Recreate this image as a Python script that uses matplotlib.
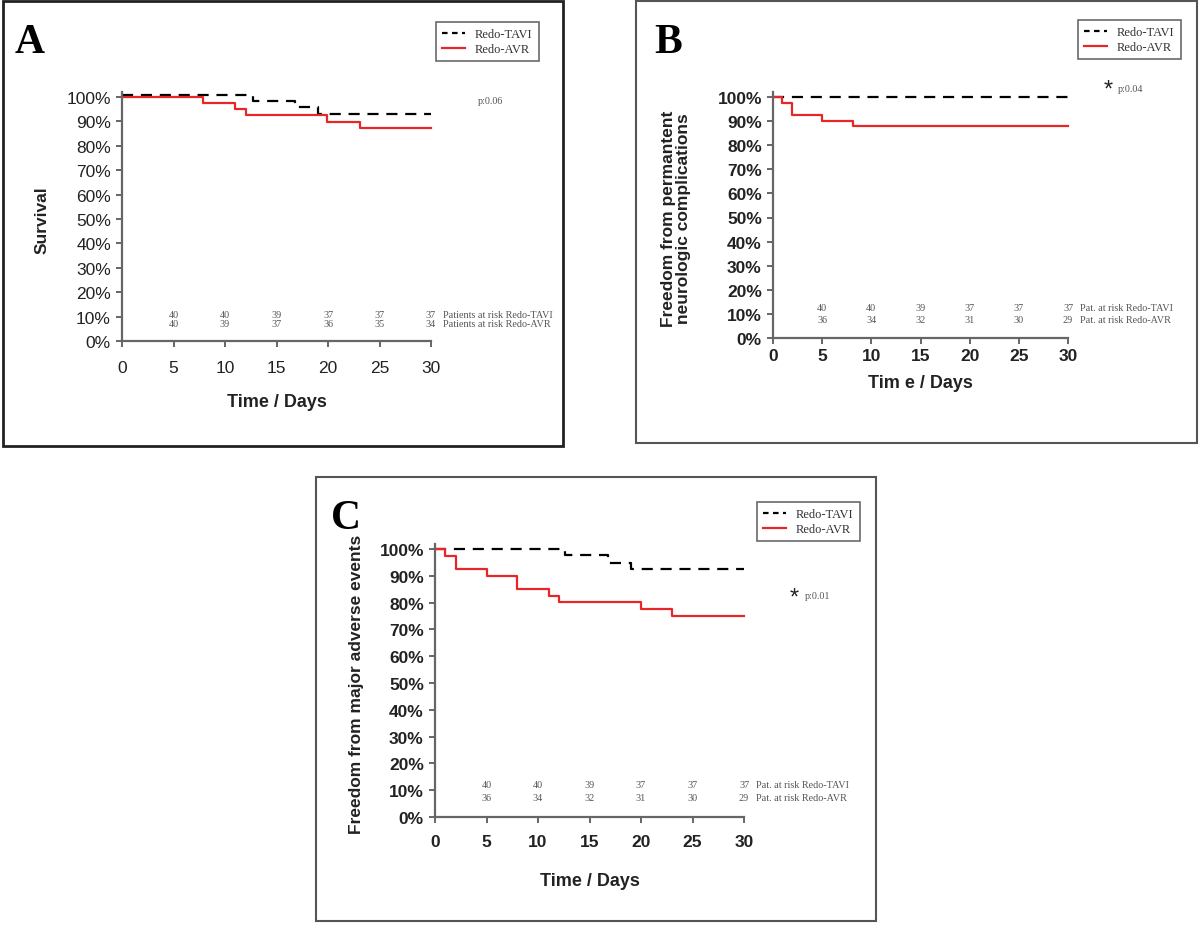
import matplotlib
matplotlib.use("Agg")
import matplotlib.pyplot as plt
from matplotlib.patches import Rectangle
from matplotlib.lines import Line2D

# ---- data ----
risk_days = [5, 10, 15, 20, 25, 30]

# A: survival
a_tavi_days = [0, 12.7, 16.8, 19.0, 30]
a_tavi_vals = [100.8, 98.3, 95.9, 93.2, 93.2]
a_avr_days = [0, 7.9, 11.0, 12.0, 19.9, 23.1, 30]
a_avr_vals = [100, 97.6, 95.0, 92.5, 89.7, 87.2, 87.2]
a_risk_tavi = [40, 40, 39, 37, 37, 37]
a_risk_avr = [40, 39, 37, 36, 35, 34]

# B: freedom from permanent neurologic complications
b_tavi_days = [0, 30]
b_tavi_vals = [100, 100]
b_avr_days = [0, 0.9, 1.9, 4.95, 8.1, 30]
b_avr_vals = [100, 97.5, 92.5, 90.0, 87.8, 87.8]

# C: freedom from major adverse events
c_tavi_days = [0, 12.6, 16.8, 19.0, 30]
c_tavi_vals = [100, 97.6, 94.9, 92.4, 92.4]
c_avr_days = [0, 1.0, 2.0, 5.0, 8.0, 11.1, 12.0, 20.0, 23.0, 30]
c_avr_vals = [100, 97.5, 92.5, 90.0, 85.1, 82.5, 80.4, 77.5, 75.1, 75.1]

bc_risk_tavi = [40, 40, 39, 37, 37, 37]
bc_risk_avr = [36, 34, 32, 31, 30, 29]

W, H = 1200, 928
RED = '#e8262a'
SANS = ['Liberation Sans', 'DejaVu Sans']
SERIF = ['Liberation Serif', 'DejaVu Serif']

fig = plt.figure(figsize=(12, 9.28), dpi=100)


def fx(px):
    return px / W


def fy(py):
    return 1 - py / H


def panel(box, ax_px, letter, letter_xy, leg_px, tavi, avr, risk, risk_labels,
          risk_y, ylabel, ylabel_x, xlabel, xlabel_y, pval, pval_xy, star,
          bold_ticks, box_lw, box_col, xpad):
    # frame round the panel
    x0, y0, x1, y1 = box
    fig.add_artist(Rectangle((fx(x0), fy(y1)), fx(x1 - x0), (y1 - y0) / H,
                             transform=fig.transFigure, fill=False,
                             edgecolor=box_col, linewidth=box_lw))
    l, t, r, b = ax_px
    ax = fig.add_axes([fx(l), fy(b), fx(r - l), (b - t) / H])
    ax.set_xlim(0, 30)
    ax.set_ylim(0, 100)
    for s in ['top', 'right']:
        ax.spines[s].set_visible(False)
    for s in ['left', 'bottom']:
        ax.spines[s].set_color('#666666')
        ax.spines[s].set_linewidth(1.6)
    ax.spines['left'].set_bounds(0, 102)
    ax.set_xticks([0, 5, 10, 15, 20, 25, 30])
    ax.set_yticks(range(0, 101, 10))
    ax.set_yticklabels([f'{v}%' for v in range(0, 101, 10)])
    ax.tick_params(direction='out', length=4, width=1.4, color='#666666',
                   labelsize=12.5, labelcolor='#222222', pad=4)
    ax.tick_params(axis='x', pad=xpad)
    for lab in ax.get_xticklabels() + ax.get_yticklabels():
        lab.set_family(SANS)
        if bold_ticks:
            lab.set_fontweight('bold')
    ax.patch.set_alpha(0)

    ax.plot(tavi[0], tavi[1], drawstyle='steps-post', color='black',
            linestyle=(0, (5, 3.5)), linewidth=1.6, clip_on=False)
    ax.plot(avr[0], avr[1], drawstyle='steps-post', color=RED,
            linewidth=1.6, clip_on=False)

    # patients at risk
    for row, lab, yy in zip(risk, risk_labels, risk_y):
        for d, n in zip(risk_days, row):
            ax.text(d, yy, str(n), ha='center', va='center', fontsize=7.3,
                    family=SERIF, color='#555555')
        ax.text(31.2, yy, lab, ha='left', va='center', fontsize=7.3,
                family=SERIF, color='#555555', clip_on=False)

    fig.text(fx((l + r) / 2), fy(xlabel_y), xlabel, ha='center', va='center',
             fontsize=13, fontweight='bold', family=SANS, color='#222222')
    fig.text(fx(ylabel_x), fy((t + b) / 2), ylabel, rotation=90, ha='center',
             va='center', fontsize=12.5, fontweight='bold', family=SANS,
             color='#222222', linespacing=1.0)

    fig.text(fx(letter_xy[0]), fy(letter_xy[1]), letter, fontsize=30,
             fontweight='bold', family=SERIF, ha='center', va='center')

    if star is not None:
        fig.text(fx(star[0]), fy(star[1]), '*', fontsize=17, family=SANS,
                 ha='center', va='center', color='#222222')
    fig.text(fx(pval_xy[0]), fy(pval_xy[1]), pval, fontsize=7.3, family=SERIF,
             ha='left', va='center', color='#555555')

    handles = [Line2D([], [], color='black', linestyle=(0, (2.5, 2)), lw=1.6),
               Line2D([], [], color=RED, lw=1.6)]
    lx0, ly0, lx1, ly1 = leg_px
    leg = fig.legend(handles, ['Redo-TAVI', 'Redo-AVR'], loc='upper right',
                     bbox_to_anchor=(fx(lx1), fy(ly0)),
                     prop={'family': SERIF, 'size': 9}, frameon=True,
                     fancybox=False, edgecolor='#444444', handlelength=1.8,
                     handletextpad=0.8, borderpad=0.5, labelspacing=0.2,
                     labelcolor='#333333')
    leg.get_frame().set_linewidth(1.2)
    return ax


panel(box=(3, 2, 563, 447), ax_px=(122, 98, 431, 342), letter='A',
      letter_xy=(30, 43), leg_px=(435, 17, 545, 66),
      tavi=(a_tavi_days, a_tavi_vals), avr=(a_avr_days, a_avr_vals),
      risk=(a_risk_tavi, a_risk_avr),
      risk_labels=('Patients at risk Redo-TAVI', 'Patients at risk Redo-AVR'),
      risk_y=(11.0, 7.0), ylabel='Survival', ylabel_x=42,
      xlabel='Time / Days', xlabel_y=403, pval='p:0.06', pval_xy=(478, 102),
      star=None, bold_ticks=False, box_lw=2.0, box_col='#222222', xpad=10)

panel(box=(636, 2, 1197, 444), ax_px=(773, 98, 1068, 339), letter='B',
      letter_xy=(668, 43), leg_px=(1078, 15, 1187, 62),
      tavi=(b_tavi_days, b_tavi_vals), avr=(b_avr_days, b_avr_vals),
      risk=(bc_risk_tavi, bc_risk_avr),
      risk_labels=('Pat. at risk Redo-TAVI', 'Pat. at risk Redo-AVR'),
      risk_y=(12.5, 7.5),
      ylabel='Freedom from permantent\nneurologic complications',
      ylabel_x=676, xlabel='Tim e / Days', xlabel_y=383, pval='p:0.04',
      pval_xy=(1118, 89), star=(1108, 91), bold_ticks=True, box_lw=1.5,
      box_col='#555555', xpad=3)

panel(box=(316, 478, 876, 922), ax_px=(435, 550, 744, 818), letter='C',
      letter_xy=(346, 519), leg_px=(741, 497, 866, 543),
      tavi=(c_tavi_days, c_tavi_vals), avr=(c_avr_days, c_avr_vals),
      risk=(bc_risk_tavi, bc_risk_avr),
      risk_labels=('Pat. at risk Redo-TAVI', 'Pat. at risk Redo-AVR'),
      risk_y=(12.3, 7.1),
      ylabel='Freedom from major adverse events', ylabel_x=357,
      xlabel='Time / Days', xlabel_y=882, pval='p:0.01', pval_xy=(805, 597),
      star=(794, 599), bold_ticks=True, box_lw=1.5, box_col='#555555',
      xpad=8)

fig.savefig('out.png', dpi=100, facecolor='white')
